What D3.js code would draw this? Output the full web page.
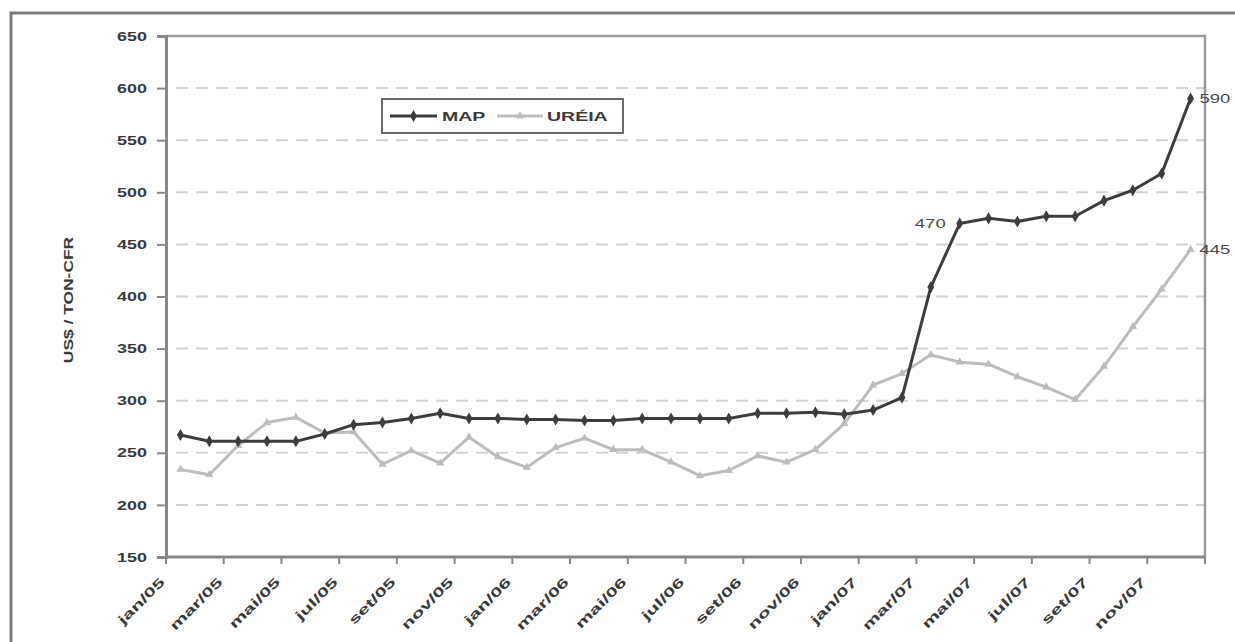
<!DOCTYPE html>
<html>
<head>
<meta charset="utf-8">
<script src="https://cdn.jsdelivr.net/npm/d3@7"></script>
<style>
  html, body { margin: 0; padding: 0; background: #fff; }
  svg { display: block; }
  text { font-family: "Liberation Sans", Arial, sans-serif; }
</style>
</head>
<body>
<svg id="chart" width="1235" height="642"></svg>
<script>
// Monthly prices, jan/05 – dez/07 (US$ / ton CFR)
const months = [
  "jan/05","fev/05","mar/05","abr/05","mai/05","jun/05","jul/05","ago/05","set/05","out/05","nov/05","dez/05",
  "jan/06","fev/06","mar/06","abr/06","mai/06","jun/06","jul/06","ago/06","set/06","out/06","nov/06","dez/06",
  "jan/07","fev/07","mar/07","abr/07","mai/07","jun/07","jul/07","ago/07","set/07","out/07","nov/07","dez/07"
];
const mapValues = [
  267, 261, 261, 261, 261, 268, 277, 279, 283, 288, 283, 283,
  282, 282, 281, 281, 283, 283, 283, 283, 288, 288, 289, 287,
  291, 303, 409, 470, 475, 472, 477, 477, 492, 502, 518, 590
];
const ureiaValues = [
  234, 229, 257, 279, 284, 269, 270, 239, 252, 240, 265, 246,
  236, 255, 264, 253, 253, 241, 228, 233, 247, 241, 253, 278,
  315, 326, 344, 337, 335, 323, 313, 301, 333, 371, 407, 445
];
const yTicks = [150, 200, 250, 300, 350, 400, 450, 500, 550, 600, 650];
const seriesNames = ["MAP", "URÉIA"];
// Points carrying a value label: [series index, month index, side]
const labelledPoints = [[0, 27, "left"], [0, 35, "right"], [1, 35, "right"]];

const svg = d3.select("#chart");
const plot = { left: 166, right: 1205, top: 36, bottom: 557 };

const x = d3.scaleBand().domain(months).range([plot.left, plot.right]).padding(0);
const y = d3.scaleLinear().domain([150, 650]).range([plot.bottom, plot.top]);
const cx = m => x(m) + x.bandwidth() / 2;

// stretch text horizontally to the wide lettering of the chart
function widen(sel, k) {
  sel.each(function () {
    const n = this.getComputedTextLength();
    d3.select(this).attr("textLength", n * k).attr("lengthAdjust", "spacingAndGlyphs");
  });
  return sel;
}

// outer frame (runs past the right and bottom edges)
svg.append("rect")
  .attr("x", 11).attr("y", 13).attr("width", 1240).attr("height", 650)
  .attr("fill", "none").attr("stroke", "#7a7a7a").attr("stroke-width", 3);

// dashed gridlines
svg.append("g").selectAll("line")
  .data(yTicks.filter(t => t > 150 && t < 650))
  .join("line")
  .attr("x1", plot.left + 10).attr("x2", plot.right)
  .attr("y1", d => y(d)).attr("y2", d => y(d))
  .attr("stroke", "#d2d2d2").attr("stroke-width", 2)
  .attr("stroke-dasharray", "12 8");

// plot frame: top and right
svg.append("path")
  .attr("d", `M${plot.left},${plot.top}H${plot.right}V${plot.bottom}`)
  .attr("fill", "none").attr("stroke", "#999").attr("stroke-width", 2.5);

// y axis
const yAxis = svg.append("g")
  .attr("transform", `translate(${plot.left},0)`)
  .call(d3.axisLeft(y).tickValues(yTicks).tickSize(9).tickPadding(10).tickFormat(d3.format("d")));
yAxis.select(".domain").attr("stroke", "#888").attr("stroke-width", 3);
yAxis.selectAll(".tick line").attr("stroke", "#888").attr("stroke-width", 2);
yAxis.selectAll(".tick text")
  .attr("font-size", 13).attr("font-weight", "bold").attr("fill", "#3a3a3a")
  .attr("font-family", "Liberation Sans, Arial, sans-serif")
  .call(widen, 1.38);

// x axis line and ticks on category boundaries
svg.append("line")
  .attr("x1", plot.left - 1).attr("x2", plot.right + 1)
  .attr("y1", plot.bottom).attr("y2", plot.bottom)
  .attr("stroke", "#888").attr("stroke-width", 3);
const boundaries = months.filter((m, i) => i % 2 === 0).map(m => x(m)).concat([plot.right]);
svg.append("g").selectAll("line")
  .data(boundaries)
  .join("line")
  .attr("x1", d => d).attr("x2", d => d)
  .attr("y1", plot.bottom).attr("y2", plot.bottom + 7)
  .attr("stroke", "#888").attr("stroke-width", 2);

// x labels, every other month, slanted
svg.append("g").selectAll("text")
  .data(months.filter((m, i) => i % 2 === 0))
  .join("text")
  .attr("transform", d => `translate(${cx(d) - 15},${plot.bottom + 26}) rotate(-45)`)
  .attr("text-anchor", "end")
  .attr("font-size", 13).attr("font-weight", "bold").attr("fill", "#3a3a3a")
  .text(d => d)
  .call(widen, 1.62);

// y title
svg.append("text")
  .attr("transform", "translate(73,300) rotate(-90)")
  .attr("text-anchor", "middle")
  .attr("font-size", 12).attr("font-weight", "bold").attr("fill", "#3a3a3a")
  .text("US$ / TON-CFR")
  .call(widen, 1.45);

// series
const series = [
  { name: seriesNames[0], values: mapValues, color: "#3d3d3d", width: 3, symbol: d3.symbolDiamond, size: 42 },
  { name: seriesNames[1], values: ureiaValues, color: "#bdbdbd", width: 3, symbol: d3.symbolTriangle, size: 30 }
];
const line = d3.line().x((d, i) => cx(months[i])).y(d => y(d));

// draw URÉIA first so MAP sits on top
[series[1], series[0]].forEach(s => {
  svg.append("path")
    .datum(s.values)
    .attr("d", line)
    .attr("fill", "none").attr("stroke", s.color).attr("stroke-width", s.width)
    .attr("stroke-linejoin", "round");
  svg.append("g").selectAll("path")
    .data(s.values)
    .join("path")
    .attr("transform", (d, i) => `translate(${cx(months[i])},${y(d)})`)
    .attr("d", d3.symbol().type(s.symbol).size(s.size))
    .attr("fill", s.color);
});

// value labels
labelledPoints.forEach(([si, mi, side]) => {
  const v = series[si].values[mi];
  svg.append("text")
    .attr("x", side === "right" ? cx(months[mi]) + 9 : cx(months[mi]) - 14)
    .attr("y", y(v))
    .attr("dy", "0.35em")
    .attr("text-anchor", side === "right" ? "start" : "end")
    .attr("font-size", 13).attr("fill", "#4a4a4a")
    .text(v)
    .call(widen, 1.42);
});

// legend
const lg = svg.append("g");
lg.append("rect")
  .attr("x", 382).attr("y", 99).attr("width", 241).attr("height", 34)
  .attr("fill", "#fff").attr("stroke", "#6a6a6a").attr("stroke-width", 2);
const legendItems = [
  { s: series[0], x0: 390, x1: 437, tx: 442 },
  { s: series[1], x0: 497, x1: 543, tx: 547 }
];
legendItems.forEach(it => {
  lg.append("line")
    .attr("x1", it.x0).attr("x2", it.x1).attr("y1", 116).attr("y2", 116)
    .attr("stroke", it.s.color).attr("stroke-width", it.s.width);
  lg.append("path")
    .attr("transform", `translate(${(it.x0 + it.x1) / 2},116)`)
    .attr("d", d3.symbol().type(it.s.symbol).size(it.s.size))
    .attr("fill", it.s.color);
  lg.append("text")
    .attr("x", it.tx).attr("y", 116).attr("dy", "0.35em")
    .attr("font-size", 13).attr("font-weight", "bold").attr("fill", "#3a3a3a")
    .text(it.s.name)
    .call(widen, 1.5);
});
</script>
</body>
</html>
